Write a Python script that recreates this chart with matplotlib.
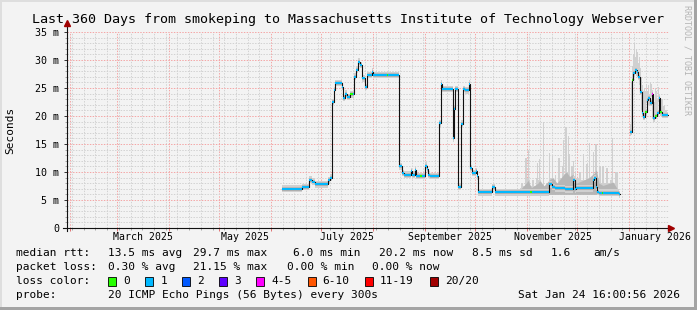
"""Smokeping 360-day latency graph (RRDtool look) redrawn with matplotlib."""

from datetime import datetime, timedelta

import numpy as np
import matplotlib
matplotlib.use("Agg")
import matplotlib.pyplot as plt
import matplotlib.dates as mdates
from matplotlib.patches import Rectangle
from matplotlib.transforms import IdentityTransform
from matplotlib.ticker import MultipleLocator, FuncFormatter, NullFormatter

W, H = 697, 310
START = datetime(2025, 1, 29, 16, 0, 56)
SPAN_DAYS = 360

title = "Last 360 Days from smokeping to Massachusetts Institute of Technology Webserver"

# median rtt as steps: day offset from START, value (ms), loss bucket index
med_days = [128.9, 140.8, 145.0, 146.8, 148.6, 156.4, 157.6, 158.8, 159.7, 160.3,
            164.8, 165.6, 166.8, 167.7, 169.5, 171.6, 172.2, 173.4, 174.6, 175.8,
            176.7, 178.5, 179.7, 182.7, 183.3, 191.7, 192.3, 199.0, 200.5, 201.8,
            206.0, 206.9, 208.4, 209.0, 211.4, 212.6, 214.4, 215.3, 216.4, 217.4,
            222.9, 223.8, 224.8, 231.0, 231.7, 232.6, 234.3, 236.2, 236.9, 238.3,
            240.4, 241.0, 242.2, 244.9, 245.4, 246.3, 254.7, 256.0, 277.2, 278.4,
            288.8, 290.3, 292.1, 298.1, 302.9, 303.8, 304.7, 314.6, 315.5, 316.6,
            317.5, 318.4, 320.2, 321.1, 330.1, 331.0, 337.0, 338.0, 339.0, 340.0,
            341.0, 341.9, 343.0, 344.0, 344.9, 345.9, 347.0, 347.9, 348.9, 350.0,
            350.9, 351.9, 353.0, 354.3, 355.1, 355.9]
med_ms = [7.0, 7.3, 8.6, 8.3, 7.8, 8.5, 9.0, 22.5, 24.6, 25.9,
          25.2, 23.2, 24.0, 23.4, 23.9, 23.9, 27.0, 28.3, 29.7, 29.1,
          26.7, 25.2, 27.3, 27.9, 27.3, 27.4, 27.3, 11.0, 9.8, 9.5,
          10.1, 9.5, 10.3, 9.3, 9.3, 9.3, 11.1, 10.6, 9.5, 9.3,
          18.7, 25.8, 24.8, 16.0, 21.2, 24.8, 7.4, 18.6, 24.8, 24.6,
          25.8, 10.7, 9.8, 10.2, 9.2, 6.4, 7.3, 6.4, 6.4, 6.4,
          7.8, 7.3, 7.1, 6.9, 8.6, 6.9, 7.1, 8.6, 8.9, 7.3,
          6.5, 6.3, 6.3, 6.3, 6.0, np.nan, 17.2, 26.4, 27.6, 28.2,
          27.8, 27.0, 24.3, 20.5, 19.9, 20.7, 22.9, 23.2, 22.3, 24.0,
          19.6, 20.0, 20.5, 23.2, 20.7, 20.2]
med_loss = [1, 1, 1, 1, 1, 1, 1, 1, 1, 1,
            1, 1, 1, 1, 0, 1, 1, 1, 1, 1,
            1, 1, 1, 1, 1, 0, 1, 1, 1, 1,
            1, 1, 1, 1, 0, 1, 1, 1, 1, 1,
            1, 1, 1, 1, 1, 1, 1, 1, 1, 1,
            1, 1, 1, 1, 1, 1, 1, 1, 0, 1,
            1, 1, 1, 1, 1, 1, 1, 1, 1, 1,
            1, 1, 0, 1, 1, 1, 1, 0, 1, 1,
            1, 1, 1, 1, 1, 0, 1, 1, 1, 4,
            1, 0, 1, 1, 0, 1]

# smoke (spread of the 20 pings) in Nov/Dec
nov_floor = 6.0
nov_days = [271.2, 272.4, 273.6, 274.8, 275.4, 276.0, 276.6, 277.8, 279.0, 280.2,
            281.3, 281.9, 282.5, 283.1, 283.7, 284.9, 285.5, 286.1, 287.9, 289.1,
            289.7, 290.9, 291.5, 292.7, 293.3, 295.1, 295.7, 296.6, 297.2, 297.8,
            299.0, 299.6, 299.9, 300.5, 300.8, 301.4, 302.3, 302.9, 303.5, 304.1,
            305.3, 307.1, 308.3, 308.9, 309.5, 311.3, 312.0, 312.5, 313.1, 314.3,
            314.9, 315.5, 316.9, 317.5, 319.0, 320.2, 320.8, 322.0, 323.2, 324.4,
            325.6, 326.8, 327.4, 329.2, 330.0, 330.4]
nov_top = [7.2, 8.0, 7.5, 12.5, 9.0, 13.9, 8.5, 7.5, 8.5, 7.5,
           9.0, 11.6, 8.5, 12.3, 8.0, 7.5, 19.0, 7.5, 8.0, 13.4,
           9.0, 12.8, 8.5, 9.5, 8.0, 12.5, 9.0, 11.0, 15.7, 9.5,
           18.0, 10.0, 16.4, 9.0, 13.3, 8.5, 11.0, 12.0, 8.5, 10.0,
           9.0, 10.0, 8.5, 13.2, 8.5, 11.5, 8.5, 15.1, 9.0, 8.5,
           13.5, 9.5, 15.0, 9.0, 11.0, 8.0, 11.0, 8.0, 10.8, 8.0,
           8.5, 16.0, 8.0, 10.0, 7.0, 6.5]
nov_mid_days = [271.2, 274.8, 276.0, 278.0, 281.9, 283.1, 285.5, 288.8, 290.9, 293.3,
                297.2, 299.0, 300.8, 302.9, 304.7, 308.9, 312.5, 315.5, 316.9, 318.4,
                320.8, 326.8, 330.4]
nov_mid_top = [6.8, 8.0, 8.5, 7.2, 8.0, 8.5, 7.5, 8.6, 9.0, 8.0,
               9.5, 10.0, 9.2, 9.6, 8.0, 8.5, 9.0, 9.8, 10.4, 8.0,
               7.6, 8.2, 6.5]

# smoke in January
jan_days = [337.0, 337.6, 338.2, 338.8, 339.4, 340.0, 340.6, 341.2, 341.8, 342.4,
            343.0, 343.6, 344.2, 344.8, 345.4, 345.9, 346.5, 347.1, 347.7, 348.3,
            348.9, 349.5, 350.1, 350.7, 351.3, 351.9, 352.5, 353.0, 353.6, 354.2,
            354.8, 355.4, 356.0, 357.2, 358.4, 359.6]
jan_lo = [16.5, 17.0, 25.5, 26.5, 27.0, 27.5, 27.2, 27.0, 26.5, 25.5,
          23.8, 21.0, 20.0, 19.5, 19.6, 20.2, 21.0, 22.4, 22.6, 22.0,
          21.8, 23.0, 23.4, 19.5, 19.4, 19.6, 20.0, 20.0, 20.0, 22.5,
          20.3, 20.0, 19.8, 19.8, 19.8, 19.8]
jan_hi = [18.5, 26.0, 29.0, 31.0, 33.0, 30.6, 32.0, 31.5, 29.5, 30.5,
          28.5, 27.0, 25.5, 24.5, 25.0, 26.0, 24.5, 25.8, 24.5, 25.5,
          24.0, 26.0, 25.8, 24.5, 23.0, 22.5, 25.0, 24.5, 23.0, 25.2,
          24.0, 22.5, 23.0, 21.8, 21.0, 20.8]

month_labels = [(2025, 3), (2025, 5), (2025, 7), (2025, 9), (2025, 11), (2026, 1)]

rtt_row = ["median rtt:", "13.5 ms avg", "29.7 ms max", "6.0 ms min",
           "20.2 ms now", "8.5 ms sd", "1.6", "am/s"]
loss_row = ["packet loss:", "0.30 % avg", "21.15 % max", "0.00 % min", "0.00 % now"]
loss_labels = ["0", "1", "2", "3", "4-5", "6-10", "11-19", "20/20"]
loss_colors = ["#26ff00", "#00b8ff", "#0059ff", "#5e00ff",
               "#ff00ff", "#ff5500", "#ff0000", "#a10000"]
probe_text = "20 ICMP Echo Pings (56 Bytes) every 300s"
stamp_text = "Sat Jan 24 16:00:56 2026"

# layout (pixel positions measured on the original)
rtt_x = [16, 107.6, 193, 293, 379, 472, 551, 593]
loss_x = [16, 107.6, 193, 286.7, 372.4]
box_x = [108, 145.3, 182, 219, 256.4, 307.6, 365, 430]
row_y = [253, 267, 281, 295.5]

BG = "#f3f3f3"
plt.rcParams["font.family"] = ["DejaVu Sans Mono"]

fig = plt.figure(figsize=(W / 100, H / 100), dpi=100, facecolor=BG)
x0, x1, y0, y1 = 66.5, 668.5, 32, 228
ax = fig.add_axes([x0 / W, 1 - y1 / H, (x1 - x0) / W, (y1 - y0) / H])
ax.set_facecolor(BG)

t0 = mdates.date2num(START)
ax.set_xlim(t0, t0 + SPAN_DAYS)
ax.set_ylim(0, 35)

# grid
ax.xaxis.set_major_locator(mdates.MonthLocator())
ax.xaxis.set_minor_locator(mdates.WeekdayLocator(byweekday=mdates.SU))
ax.xaxis.set_major_formatter(NullFormatter())
ax.yaxis.set_major_locator(MultipleLocator(5))
ax.yaxis.set_minor_locator(MultipleLocator(1))
ax.yaxis.set_major_formatter(FuncFormatter(lambda v, p: "0" if v == 0 else f"{v:.0f} m"))
dots = (0, (1.4, 1.4))
ax.grid(which="minor", color="#d2d2d2", lw=0.72, ls=dots)
ax.grid(which="major", color="#f4a6a6", lw=0.72, ls=dots)
ax.set_axisbelow(True)
for s in ax.spines.values():
    s.set_visible(False)
ax.tick_params(axis="y", which="major", length=2.2, width=0.7, pad=3,
               labelsize=7.2, color="#333333")
ax.tick_params(axis="y", which="minor", length=1.2, width=0.6, color="#999999")
ax.tick_params(axis="x", which="major", length=2.0, width=0.7, color="#e07070")
ax.tick_params(axis="x", which="minor", length=1.2, width=0.6, color="#999999")

# smoke
ax.fill_between(t0 + np.array(nov_days), nov_floor, nov_top, step="mid",
                color="#d0d0d0", lw=0, zorder=2)
ax.fill_between(t0 + np.array(nov_mid_days), nov_floor, nov_mid_top,
                color="#b6b6b6", lw=0, zorder=2.1)
ax.fill_between(t0 + np.array(jan_days), jan_lo, jan_hi, step="mid",
                color="#d0d0d0", lw=0, zorder=2)

# median
x = t0 + np.array(med_days)
y = np.array(med_ms)
x_end = np.append(x[1:], t0 + SPAN_DAYS)
wid = x_end - x
ok = ~np.isnan(y)
ax.bar(x[ok], 1.2, bottom=y[ok] - 0.6, width=wid[ok], align="edge",
       color="#d0d0d0", lw=0, zorder=2.2)
ax.bar(x[ok], 0.7, bottom=y[ok] - 0.35, width=wid[ok], align="edge",
       color="#b8b8b8", lw=0, zorder=2.3)
ax.step(np.append(x, t0 + SPAN_DAYS), np.append(y, y[-1]), where="post",
        color="#111111", lw=0.8, zorder=3)
seg_colors = [loss_colors[i] for i in np.array(med_loss)[ok]]
ax.bar(x[ok], 0.36, bottom=y[ok] - 0.18, width=wid[ok], align="edge",
       color=seg_colors, lw=0, zorder=4)

# axis lines with arrows
ax.plot([0, 0], [-3 / 196, 203 / 196], transform=ax.transAxes, color="#111111",
        lw=0.8, clip_on=False, zorder=5)
ax.plot([-4 / 602, 1.0], [0, 0], transform=ax.transAxes, color="#111111",
        lw=0.8, clip_on=False, zorder=5)
ax.plot([0], [205 / 196], transform=ax.transAxes, marker="^", ms=4.2,
        color="#a00000", clip_on=False, zorder=6)
ax.plot([604 / 602], [0], transform=ax.transAxes, marker=">", ms=4.2,
        color="#a00000", clip_on=False, zorder=6)

# month labels, centred half a month after the 1st
xa = ax.get_xaxis_transform()
for yr, mo in month_labels:
    d = datetime(yr, mo, 1) + timedelta(days=15.3)
    ax.text(mdates.date2num(d), -9.5 / 196, d.strftime("%B %Y"), transform=xa,
            ha="center", va="center", fontsize=7.1)

# texts around the plot
def ftext(px, py, s, **kw):
    fig.text(px / W, 1 - py / H, s, va="center", **kw)

ftext(348.5, 19, title, ha="center", fontsize=9.6)
ftext(10, 130, "Seconds", ha="center", rotation=90, fontsize=8)
ftext(686.5, 60, "RRDTOOL / TOBI OETIKER", ha="center", rotation=270,
      fontsize=6, color="#b4b4b4")

for s, px in zip(rtt_row, rtt_x):
    ftext(px, row_y[0], s, ha="left", fontsize=8)
for s, px in zip(loss_row, loss_x):
    ftext(px, row_y[1], s, ha="left", fontsize=8)
ftext(16, row_y[2], "loss color:", ha="left", fontsize=8)
for lab, col, bx in zip(loss_labels, loss_colors, box_x):
    fig.add_artist(Rectangle((bx, H - row_y[2] - 4.5), 8, 9, facecolor=col,
                             edgecolor="#000000", lw=0.6,
                             transform=IdentityTransform()))
    ftext(bx + 15, row_y[2], lab, ha="left", fontsize=8)
ftext(16, row_y[3], "probe:", ha="left", fontsize=8)
ftext(107.6, row_y[3], probe_text, ha="left", fontsize=8)
ftext(680.5, row_y[3], stamp_text, ha="right", fontsize=8)

# 3d frame
for (fx, fy, fw, fh, c) in [(0, H - 2, W, 2, "#dedede"), (0, 0, 2, H, "#dedede"),
                            (W - 3, 0, 3, H, "#a4a4a4"), (0, 0, W, 3, "#a4a4a4")]:
    fig.add_artist(Rectangle((fx, fy), fw, fh, facecolor=c, lw=0,
                             transform=IdentityTransform()))

fig.savefig("out.png", dpi=100, facecolor=BG)
